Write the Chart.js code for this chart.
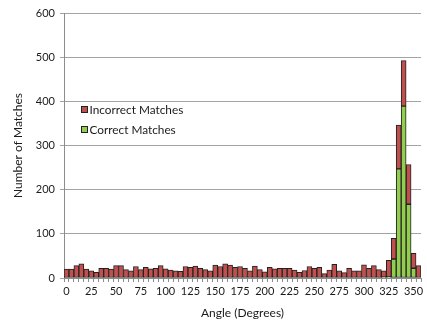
<!DOCTYPE html>
<html>
<head>
<meta charset="utf-8">
<script src="https://cdn.jsdelivr.net/npm/chart.js@4.4.1/dist/chart.umd.min.js"></script>
<style>
  html, body { margin: 0; padding: 0; background: #ffffff; }
  #wrap { width: 427px; height: 325px; position: relative; }
</style>
</head>
<body>
<div id="wrap"><canvas id="c" width="427" height="325"></canvas></div>
<script>
// Categories: angle bins (degrees)
const angles = [0,5,10,15,20,25,30,35,40,45,50,55,60,65,70,75,80,85,90,95,
  100,105,110,115,120,125,130,135,140,145,150,155,160,165,170,175,180,185,190,195,
  200,205,210,215,220,225,230,235,240,245,250,255,260,265,270,275,280,285,290,295,
  300,305,310,315,320,325,330,335,340,345,350,355];

// Series: correct matches (bottom, green)
const correctMatches = [0,0,0,0,0,0,0,0,0,0,0,0,0,0,0,0,0,0,0,0,
  0,0,0,0,0,0,0,0,0,0,0,0,0,0,0,0,0,0,0,0,
  0,0,0,0,0,0,0,0,0,0,0,0,0,0,0,0,0,0,0,0,
  0,0,0,0,2,3,43,247,389,167,22,0];

// Series: incorrect matches (stacked on top, red)
const incorrectMatches = [20,20,28,32,20,16,13,22,22,20,28,28,19,16,26,19,24,21,22,28,
  21,18,16,15,26,24,27,22,19,16,29,26,32,29,24,26,22,16,27,19,
  14,24,21,22,22,22,18,13,17,26,22,24,10,18,31,16,12,22,16,16,
  30,22,28,19,14,37,47,99,103,90,34,28];

// Axis ticks
const xTickLabels = [0,25,50,75,100,125,150,175,200,225,250,275,300,325,350];
const yTicks = [0,100,200,300,400,500,600];

const seriesNames = ['Correct Matches', 'Incorrect Matches'];
const legendOrder = ['Incorrect Matches', 'Correct Matches'];
const colors = { 'Correct Matches': '#92CD50', 'Incorrect Matches': '#C0504D' };

const FONT = 'Lato, "Open Sans", sans-serif';

const insideLegend = {
  id: 'insideLegend',
  afterDraw(chart) {
    const ctx = chart.ctx;
    ctx.save();
    ctx.font = '11.8px ' + FONT;
    ctx.textBaseline = 'middle';
    ctx.textAlign = 'left';
    const rows = [110, 130];
    legendOrder.forEach((name, i) => {
      const y = rows[i];
      ctx.fillStyle = colors[name];
      ctx.fillRect(81.5, y - 3.5, 6, 6);
      ctx.strokeStyle = '#222';
      ctx.lineWidth = 1;
      ctx.strokeRect(81.5, y - 3.5, 6, 6);
      ctx.fillStyle = '#1a1a1a';
      ctx.fillText(name, 89.5, y + 0.5);
    });
    ctx.restore();
  }
};

new Chart(document.getElementById('c'), {
  type: 'bar',
  data: {
    labels: angles,
    datasets: [
      { label: seriesNames[0], data: correctMatches, backgroundColor: colors['Correct Matches'],
        borderColor: '#222', borderWidth: 1, borderSkipped: false },
      { label: seriesNames[1], data: incorrectMatches, backgroundColor: colors['Incorrect Matches'],
        borderColor: '#222', borderWidth: 1, borderSkipped: false }
    ]
  },
  options: {
    responsive: false,
    animation: false,
    devicePixelRatio: 1,
    layout: { padding: { top: 13, right: 6, left: 0, bottom: 0 } },
    plugins: { legend: { display: false }, tooltip: { enabled: false } },
    datasets: { bar: { barPercentage: 1, categoryPercentage: 1 } },
    scales: {
      x: {
        stacked: true,
        offset: true,
        grid: { offset: true, drawOnChartArea: false, drawTicks: true, tickLength: 4, color: '#8c8c8c' },
        border: { display: true, color: '#8c8c8c' },
        ticks: {
          autoSkip: false, maxRotation: 0, minRotation: 0, padding: 3,
          color: '#1a1a1a', font: { family: FONT, size: 11 },
          callback: function(v, i) { const a = angles[i]; return xTickLabels.includes(a) ? String(a) : ''; }
        },
        title: { display: true, text: 'Angle (Degrees)', color: '#1a1a1a',
          font: { family: FONT, size: 12 }, padding: { top: 0, bottom: 5 } },
        afterFit(s) { s.height = 47; }
      },
      y: {
        stacked: true,
        min: 0, max: 600,
        afterBuildTicks(s) { s.ticks = yTicks.map(v => ({ value: v })); },
        grid: { color: '#a3a3a3', tickLength: 4, drawTicks: true },
        border: { display: true, color: '#8c8c8c' },
        ticks: { padding: 5, color: '#1a1a1a', font: { family: FONT, size: 11 } },
        title: { display: true, text: 'Number of Matches', color: '#1a1a1a',
          font: { family: FONT, size: 12 }, padding: { top: 11, bottom: 0 } },
        afterFit(s) { s.width = 64; }
      }
    }
  },
  plugins: [insideLegend]
});
</script>
</body>
</html>
